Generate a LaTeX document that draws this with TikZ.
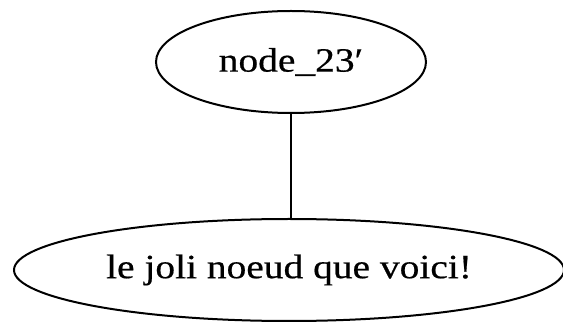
\documentclass[tikz,border=0pt]{standalone}
\usepackage{fontspec}
\setmainfont{Liberation Serif}
\newfontfamily\labelfont[FakeBold=0.5]{Liberation Serif}
\usetikzlibrary{shapes.geometric}
\begin{document}
\begin{tikzpicture}[x=1pt,y=-1pt,
  gnode/.style={ellipse, draw, line width=2pt, inner sep=0pt,
    font=\labelfont\fontsize{34}{40}\selectfont},
  gedge/.style={draw, line width=2pt}]
\useasboundingbox (0,0) rectangle (563,323);
\node[gnode, minimum width=270pt, minimum height=102pt] (top) at (291,62)
  {\scalebox{1.16}[1]{node\_23′}};
\node[gnode, minimum width=550pt, minimum height=102pt] (bot) at (289,270)
  {\scalebox{1.16}[1]{le joli noeud que voici!}};
\draw[gedge] (top.south) -- (top.south |- bot.north);
\end{tikzpicture}
\end{document}
